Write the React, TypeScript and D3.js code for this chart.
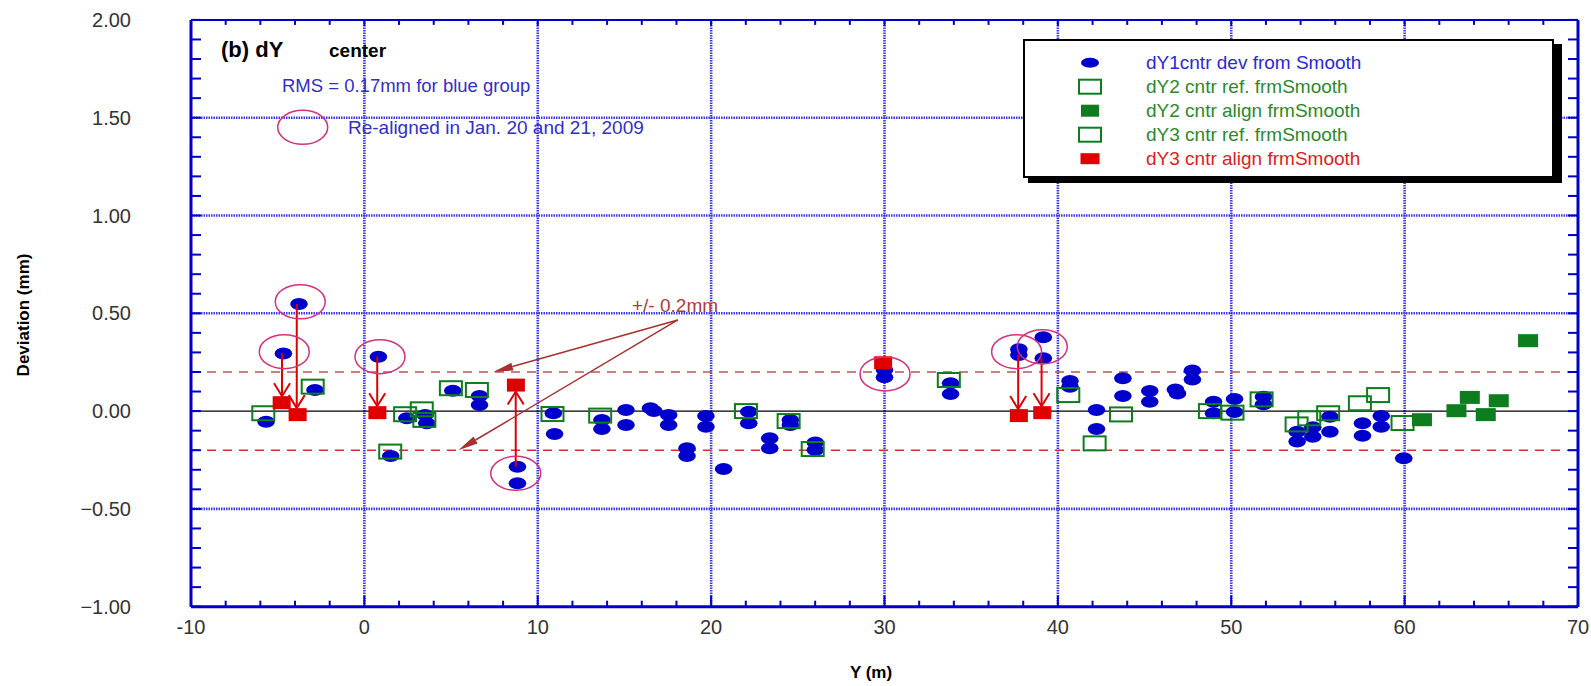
import React from 'react';
import * as d3 from 'd3';

const W = 1591;
const H = 686;

const xTicks = [-10, 0, 10, 20, 30, 40, 50, 60, 70];
const yTicks = [-1, -0.5, 0, 0.5, 1, 1.5, 2];

// dY1cntr dev from Smooth (blue ellipses)
const dY1: [number, number][] = [
  [-5.67, -0.054], [-4.67, 0.295], [-3.77, 0.548], [-2.85, 0.108],
  [0.81, 0.278], [1.52, -0.23], [2.45, -0.037], [3.5, -0.02], [3.6, -0.062],
  [5.1, 0.104], [6.64, 0.077], [6.64, 0.031], [8.83, -0.284], [8.83, -0.369],
  [10.9, -0.011], [10.97, -0.117], [13.7, -0.045], [13.7, -0.092],
  [15.09, 0.006], [15.09, -0.071], [16.5, 0.015], [16.7, 0.0],
  [17.55, -0.02], [17.55, -0.071], [18.61, -0.19], [18.61, -0.23],
  [19.7, -0.025], [19.7, -0.08], [20.72, -0.296], [22.17, -0.003], [22.17, -0.062],
  [23.38, -0.139], [23.38, -0.19], [24.57, -0.046], [24.57, -0.071],
  [26.01, -0.161], [26.01, -0.199], [30.0, 0.21], [30.0, 0.173],
  [33.81, 0.142], [33.81, 0.087], [37.75, 0.316], [37.75, 0.287],
  [39.16, 0.377], [39.16, 0.27], [40.7, 0.154], [40.7, 0.125],
  [42.23, 0.006], [42.23, -0.092], [43.75, 0.168], [43.75, 0.077],
  [45.3, 0.103], [45.3, 0.048], [46.78, 0.111], [46.9, 0.09],
  [47.76, 0.207], [47.76, 0.162], [48.98, 0.048], [48.98, -0.011],
  [50.19, 0.062], [50.19, -0.005], [51.86, 0.074], [51.86, 0.035],
  [53.8, -0.105], [53.8, -0.156], [54.7, -0.083], [54.7, -0.131],
  [55.69, -0.029], [55.69, -0.105], [57.57, -0.062], [57.57, -0.126],
  [58.65, -0.025], [58.65, -0.08], [59.95, -0.241],
];

// dY2 cntr ref. frmSmooth (open green squares)
const dY2Ref: [number, number][] = [
  [-5.83, -0.011], [-2.98, 0.125], [1.49, -0.207], [2.35, -0.016],
  [3.31, 0.009], [3.46, -0.045], [4.99, 0.117], [6.49, 0.108],
  [10.85, -0.015], [13.6, -0.023], [22.01, 0.0], [24.47, -0.051], [25.86, -0.194],
];

// dY3 cntr ref. frmSmooth (open green squares)
const dY3Ref: [number, number][] = [
  [33.71, 0.159], [40.6, 0.082], [42.12, -0.165], [43.64, -0.017],
  [48.77, 0.0], [50.07, -0.008], [51.75, 0.06], [53.77, -0.068],
  [54.5, -0.037], [55.59, -0.011], [57.42, 0.04], [58.47, 0.082], [59.88, -0.061],
];

// dY2 cntr align frmSmooth (filled green squares)
const dY2Align: [number, number][] = [
  [61.0, -0.044], [62.99, 0.002], [63.76, 0.07], [64.68, -0.018],
  [65.43, 0.053], [67.12, 0.36],
];

// dY3 cntr align frmSmooth (red squares)
const dY3Align: [number, number][] = [
  [-4.77, 0.043], [-3.85, -0.018], [0.75, -0.008], [8.74, 0.133],
  [29.92, 0.247], [37.75, -0.023], [39.1, -0.008],
];

// re-alignment arrows: x, from value, to value
const realignX = [-4.75, -3.9, 0.74, 8.73, 37.71, 39.06];
const realignFrom = [0.295, 0.548, 0.278, -0.284, 0.287, 0.27];
const realignTo = [0.043, -0.018, -0.008, 0.133, -0.023, -0.008];

// re-aligned markers (circles)
const circledX = [-3.7, -4.62, 0.9, 8.73, 30.03, 37.62, 39.1];
const circledY = [0.559, 0.304, 0.278, -0.318, 0.19, 0.304, 0.329];

const tolerance = [0.2, -0.2];

const legendLabels = [
  'dY1cntr dev from Smooth',
  'dY2 cntr ref. frmSmooth',
  'dY2 cntr align frmSmooth',
  'dY3 cntr ref. frmSmooth',
  'dY3 cntr align frmSmooth',
];

const BLUE = '#0000cc';
const GREEN = '#0d7d1d';
const RED = '#e00000';
const PINK = '#d6307e';
const GRID = '#3a3ae6';
const AXIS = '#0000c8';
const FONT = '"Liberation Sans", Arial, sans-serif';

export default function App() {
  const x = d3.scaleLinear().domain([-10, 70]).range([191, 1578]);
  const y = d3.scaleLinear().domain([-1, 2]).range([606.7, 19.9]);
  const [x0, x1] = x.range();
  const [yb, yt] = y.range();
  const fmt = d3.format('.2f');
  const xMinor = d3.range(-10, 70.001, 2);
  const yMinor = d3.range(-10, 20.001, 1).map((v) => v / 10);

  const arrowHead = (tx: number, ty: number, dir: number, key: string) => (
    <path
      key={key}
      d={`M${tx - 8},${ty - dir * 13} L${tx},${ty} L${tx + 8},${ty - dir * 13}`}
      fill="none"
      stroke={RED}
      strokeWidth={2}
    />
  );

  // +/- 0.2 annotation geometry
  const annOrigin: [number, number] = [x(18.08), y(0.466)];
  const annTips: [number, number][] = [[x(7.43), y(0.2)], [x(5.42), y(-0.2)]];

  const legendColors = [BLUE, GREEN, GREEN, GREEN, RED];
  const legX = 1024, legY = 40, legW = 529, legH = 137;

  return (
    <svg
      width={W}
      height={H}
      style={{ position: 'fixed', left: 0, top: 0, background: '#fff' }}
      fontFamily={FONT}
    >
      <rect x={0} y={0} width={W} height={H} fill="#fff" />

      {/* grid */}
      {xTicks.filter((t) => t > -10 && t < 70).map((t) => (
        <line key={'gx' + t} x1={x(t)} x2={x(t)} y1={yt} y2={yb}
          stroke={GRID} strokeWidth={2.6} strokeDasharray="1.5 1" />
      ))}
      {yTicks.filter((t) => t !== 0 && t > -1 && t < 2).map((t) => (
        <line key={'gy' + t} x1={x0} x2={x1} y1={y(t)} y2={y(t)}
          stroke={GRID} strokeWidth={2.6} strokeDasharray="1.5 1" />
      ))}
      <line x1={x0} x2={x1} y1={y(0)} y2={y(0)} stroke="#000" strokeWidth={1.2} />
      {tolerance.map((t, i) => (
        <line key={'tol' + i} x1={x0} x2={x1} y1={y(t)} y2={y(t)}
          stroke={i === 0 ? '#bb5555' : '#cc3333'} strokeWidth={1.6} strokeDasharray="9 7" />
      ))}

      {/* data */}
      {dY1.map(([a, b], i) => (
        <ellipse key={'b' + i} cx={x(a)} cy={y(b)} rx={8.8} ry={6} fill={BLUE} />
      ))}
      {[...dY2Ref, ...dY3Ref].map(([a, b], i) => (
        <rect key={'o' + i} x={x(a) - 11} y={y(b) - 7} width={22} height={14}
          fill="none" stroke={GREEN} strokeWidth={2} />
      ))}
      {dY2Align.map(([a, b], i) => (
        <rect key={'g' + i} x={x(a) - 10} y={y(b) - 6.5} width={20} height={13} fill={GREEN} />
      ))}
      {dY3Align.map(([a, b], i) => (
        <rect key={'r' + i} x={x(a) - 9} y={y(b) - 6.5} width={18} height={13} fill={RED} />
      ))}

      {/* realign arrows */}
      {realignX.map((a, i) => {
        const dir = realignTo[i] < realignFrom[i] ? 1 : -1; // 1 = pointing down
        const tipY = y(realignTo[i]) - dir * 6.5;
        return (
          <g key={'ar' + i}>
            <line x1={x(a)} x2={x(a)} y1={y(realignFrom[i])} y2={tipY} stroke={RED} strokeWidth={2} />
            {arrowHead(x(a), tipY, dir, 'h' + i)}
          </g>
        );
      })}

      {/* circles */}
      {circledX.map((a, i) => (
        <ellipse key={'c' + i} cx={x(a)} cy={y(circledY[i])} rx={25} ry={17}
          fill="none" stroke={PINK} strokeWidth={1.5} />
      ))}

      {/* +/- 0.2mm annotation */}
      {annTips.map(([tx, ty], i) => {
        const [ox, oy] = annOrigin;
        const ang = Math.atan2(ty - oy, tx - ox);
        const L = 20, hw = 4;
        const bx = tx - L * Math.cos(ang), by = ty - L * Math.sin(ang);
        const px = -Math.sin(ang) * hw, py = Math.cos(ang) * hw;
        return (
          <g key={'ann' + i}>
            <line x1={ox} y1={oy} x2={bx} y2={by} stroke="#a8302e" strokeWidth={1.5} />
            <path d={`M${tx},${ty} L${bx + px},${by + py} L${bx - px},${by - py} Z`} fill="#a8302e" />
          </g>
        );
      })}
      <text x={632} y={312} fontSize={19} fill="#b03a3a">+/- 0.2mm</text>

      {/* header annotations */}
      <text x={221} y={57} fontSize={22} fontWeight="bold" fill="#000">(b) dY</text>
      <text x={329} y={57} fontSize={19} fontWeight="bold" fill="#000">center</text>
      <text x={282} y={92} fontSize={18.5} fill="#3030c8">RMS = 0.17mm for blue group</text>
      <ellipse cx={302.7} cy={127.3} rx={25} ry={17} fill="none" stroke={PINK} strokeWidth={1.5} />
      <text x={348} y={134} fontSize={19} fill="#3030c8">Re-aligned in Jan. 20 and 21, 2009</text>

      {/* axes frame and ticks */}
      {xMinor.map((t) => {
        const major = Math.abs(t % 10) < 1e-9;
        return (
          <g key={'xt' + t}>
            <line x1={x(t)} x2={x(t)} y1={yb} y2={yb - (major ? 11 : 6)} stroke={AXIS} strokeWidth={2} />
            <line x1={x(t)} x2={x(t)} y1={yt} y2={yt + (major ? 6 : 5)} stroke={AXIS} strokeWidth={2} />
          </g>
        );
      })}
      {yMinor.map((t) => (
        <g key={'yt' + t}>
          <line x1={x0} x2={x0 + 10} y1={y(t)} y2={y(t)} stroke={AXIS} strokeWidth={2} />
          <line x1={x1} x2={x1 - 10} y1={y(t)} y2={y(t)} stroke={AXIS} strokeWidth={2} />
        </g>
      ))}
      <line x1={x0} x2={x1} y1={yt} y2={yt} stroke={AXIS} strokeWidth={2} />
      <line x1={x0} x2={x1} y1={yb} y2={yb} stroke={AXIS} strokeWidth={3} />
      <line x1={x0} x2={x0} y1={yt} y2={yb} stroke={AXIS} strokeWidth={3} />
      <line x1={x1} x2={x1} y1={yt} y2={yb} stroke={AXIS} strokeWidth={3} />

      {/* tick labels */}
      {yTicks.map((t) => (
        <text key={'yl' + t} x={131} y={y(t)} fontSize={20} fill="#333" textAnchor="end"
          dominantBaseline="central">{fmt(t)}</text>
      ))}
      {xTicks.map((t) => (
        <text key={'xl' + t} x={x(t)} y={627} fontSize={20} fill="#333" textAnchor="middle"
          dominantBaseline="central">{t}</text>
      ))}

      {/* axis titles */}
      <text x={871} y={672} fontSize={17} fontWeight="bold" fill="#000" textAnchor="middle"
        dominantBaseline="central">Y (m)</text>
      <text transform="translate(23,315) rotate(-90)" fontSize={17} fontWeight="bold" fill="#000"
        textAnchor="middle" dominantBaseline="central">Deviation (mm)</text>

      {/* legend */}
      <rect x={legX + 4} y={legY + 4} width={legW + 5} height={legH + 2} fill="#000" />
      <rect x={legX} y={legY} width={legW} height={legH} fill="#fff" stroke="#000" strokeWidth={2} />
      {legendLabels.map((lab, i) => {
        const cy = 62.7 + i * 24;
        const cx = 1090;
        let sym;
        if (i === 0) sym = <ellipse cx={cx} cy={cy} rx={9} ry={5} fill={BLUE} />;
        else if (i === 1 || i === 3)
          sym = <rect x={cx - 11} y={cy - 7} width={22} height={14} fill="none" stroke={GREEN} strokeWidth={2} />;
        else if (i === 2) sym = <rect x={cx - 9} y={cy - 6} width={18} height={12} fill={GREEN} />;
        else sym = <rect x={cx - 9.5} y={cy - 5.5} width={19} height={11} fill={RED} />;
        return (
          <g key={'lg' + i}>
            {sym}
            <text x={1146} y={cy} fontSize={19} fill={i === 0 ? '#2a2ad8' : legendColors[i] === RED ? '#e02020' : '#2a8a2a'}
              dominantBaseline="central">{lab}</text>
          </g>
        );
      })}
    </svg>
  );
}
